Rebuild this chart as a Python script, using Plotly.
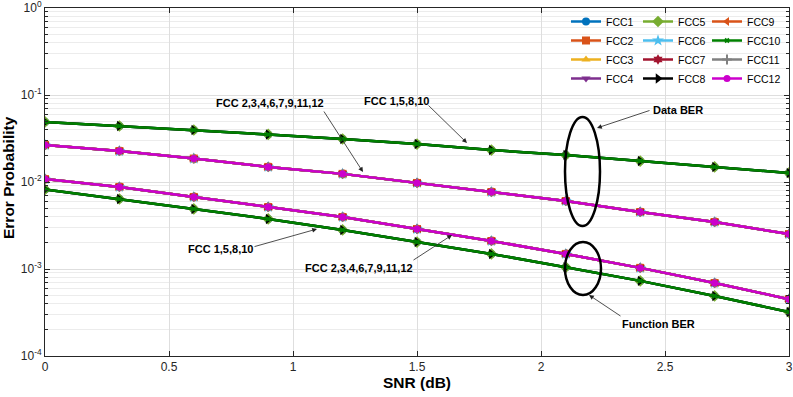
import plotly.graph_objects as go

# SNR axis (dB)
snr = [0, 0.3, 0.6, 0.9, 1.2, 1.5, 1.8, 2.1, 2.4, 2.7, 3.0]

# Data BER / Function BER, FCC 1,5,8,10
data_ber_a = [0.0490, 0.0440, 0.0396, 0.0352, 0.0312, 0.0273, 0.0233, 0.0204, 0.0174, 0.0149, 0.0127]
func_ber_a = [0.00820, 0.00638, 0.00490, 0.00376, 0.00281, 0.00204, 0.00149, 0.00105, 0.00073, 0.00049, 0.00032]
# Data BER / Function BER, FCC 2,3,4,6,7,9,11,12
data_ber_b = [0.0266, 0.0227, 0.0186, 0.0149, 0.0124, 0.00975, 0.00768, 0.00605, 0.00452, 0.00347, 0.00252]
func_ber_b = [0.0108, 0.00877, 0.00673, 0.00516, 0.00396, 0.00288, 0.00210, 0.00149, 0.00103, 0.00069, 0.00045]

names = ["FCC1", "FCC2", "FCC3", "FCC4", "FCC5", "FCC6", "FCC7", "FCC8", "FCC9", "FCC10", "FCC11", "FCC12"]
group_a = ["FCC1", "FCC5", "FCC8", "FCC10"]
colors = ["#0072BD", "#D95319", "#EDB120", "#7E2F8E", "#77AC30", "#4DBEEE",
          "#A2142F", "#000000", "#D95319", "#008000", "#808080", "#CC00CC"]
symbols = ["circle", "square", "triangle-up", "triangle-down", "diamond", "star",
           "hexagram", "triangle-right", "triangle-left", "x-thin", "cross-thin", "circle"]
sizes = [8, 8, 8, 8, 9, 9, 8, 9, 8, 4, 7, 7]

yticks = [1e-4, 1e-3, 1e-2, 1e-1, 1]
ytext = ["10<sup>-4</sup>", "10<sup>-3</sup>", "10<sup>-2</sup>", "10<sup>-1</sup>", "10<sup>0</sup>"]

# plot area in pixels: x 45..789, y 8..356
def px(x):
    return (x - 45) / 744

def py(y):
    return (356 - y) / 348

fig = go.Figure()
for i, n in enumerate(names):
    if n in group_a:
        d, f = data_ber_a, func_ber_a
    else:
        d, f = data_ber_b, func_ber_b
    sym = symbols[i]
    thin = sym.endswith("-thin")
    fig.add_trace(go.Scatter(
        x=snr + [None] + snr, y=d + [None] + f, name=n, mode="lines+markers",
        connectgaps=False,
        line=dict(color=colors[i], width=2.5),
        marker=dict(symbol=sym, size=sizes[i], color=colors[i],
                    line=dict(color=colors[i], width=2 if thin else 0)),
        legend=["legend", "legend2", "legend3"][i // 4],
    ))

leg = dict(font=dict(family="Liberation Sans", size=10.5, color="#000000"),
           bgcolor="rgba(0,0,0,0)", borderwidth=0, itemwidth=30,
           yanchor="top", y=py(7), xanchor="left", tracegroupgap=0)

fig.update_layout(
    width=793, height=397,
    margin=dict(l=45, r=4, t=8, b=41),
    plot_bgcolor="white", paper_bgcolor="white",
    font=dict(family="Liberation Sans", color="#262626"),
    legend=dict(leg, x=px(566)),
    legend2=dict(leg, x=px(638)),
    legend3=dict(leg, x=px(707)),
)

fig.update_xaxes(
    range=[0, 3], dtick=0.5, showgrid=True, gridcolor="#dedede", automargin=False,
    showline=True, linecolor="#262626", linewidth=1, mirror="ticks",
    ticks="inside", ticklen=5, tickcolor="#262626", zeroline=False,
    ticklabeloverflow="allow",
    tickfont=dict(size=12, color="#262626"),
    title=dict(text="<b>SNR (dB)</b>", font=dict(size=15.5, color="#000000"), standoff=3),
)
fig.update_yaxes(
    type="log", range=[-4, 0], tickvals=yticks, ticktext=ytext, automargin=False,
    showgrid=True, gridcolor="#dedede",
    minor=dict(showgrid=True, gridcolor="#ececec", ticks="inside", ticklen=3,
               tickcolor="#262626", dtick="D1"),
    showline=True, linecolor="#262626", linewidth=1, mirror="ticks",
    ticks="inside", ticklen=5, tickcolor="#262626", zeroline=False,
    ticklabeloverflow="allow",
    tickfont=dict(size=12, color="#262626"),
)

# y-axis title placed by hand, left of the tick labels
fig.add_annotation(x=px(8), y=py(178), xref="paper", yref="paper",
                   xanchor="center", yanchor="middle", textangle=-90,
                   text="<b>Error Probability</b>", showarrow=False,
                   font=dict(family="Liberation Sans", size=15.5, color="#000000"))

# text labels with arrows: (text, text center px, tail px, head px)
notes = [
    ("FCC 2,3,4,6,7,9,11,12", (270, 103), (323, 110), (363, 172)),
    ("FCC 1,5,8,10", (396, 101), (427, 104), (467, 143)),
    ("Data BER", (678, 110), (651, 110), (597, 128)),
    ("FCC 1,5,8,10", (220, 249), (253, 247), (317, 229)),
    ("FCC 2,3,4,6,7,9,11,12", (359, 268), (412, 261), (452, 235)),
    ("Function BER", (658, 324), (622, 317), (589, 295)),
]
for t, c, tail, head in notes:
    fig.add_annotation(x=px(c[0]), y=py(c[1]), xref="paper", yref="paper",
                       xanchor="center", yanchor="middle",
                       text="<b>" + t + "</b>", showarrow=False,
                       font=dict(family="Liberation Sans", size=11, color="#000000"))
    fig.add_annotation(x=px(head[0]), y=py(head[1]), xref="paper", yref="paper",
                       ax=tail[0] - head[0], ay=tail[1] - head[1], text="",
                       showarrow=True, arrowhead=2, arrowsize=1.2, arrowwidth=0.8,
                       arrowcolor="#222222")

# ellipses
for x0, x1, y0, y1 in [(565, 600, 117, 226), (565, 601, 242, 295)]:
    fig.add_shape(type="circle", xref="paper", yref="paper",
                  x0=px(x0), x1=px(x1), y0=py(y1), y1=py(y0),
                  line=dict(color="#000000", width=2.5))

# drop the default 8px page margin so the figure sits at the window corner
fig.write_html("out.html", config={"displayModeBar": False},
               post_script="document.body.style.margin='0';")
